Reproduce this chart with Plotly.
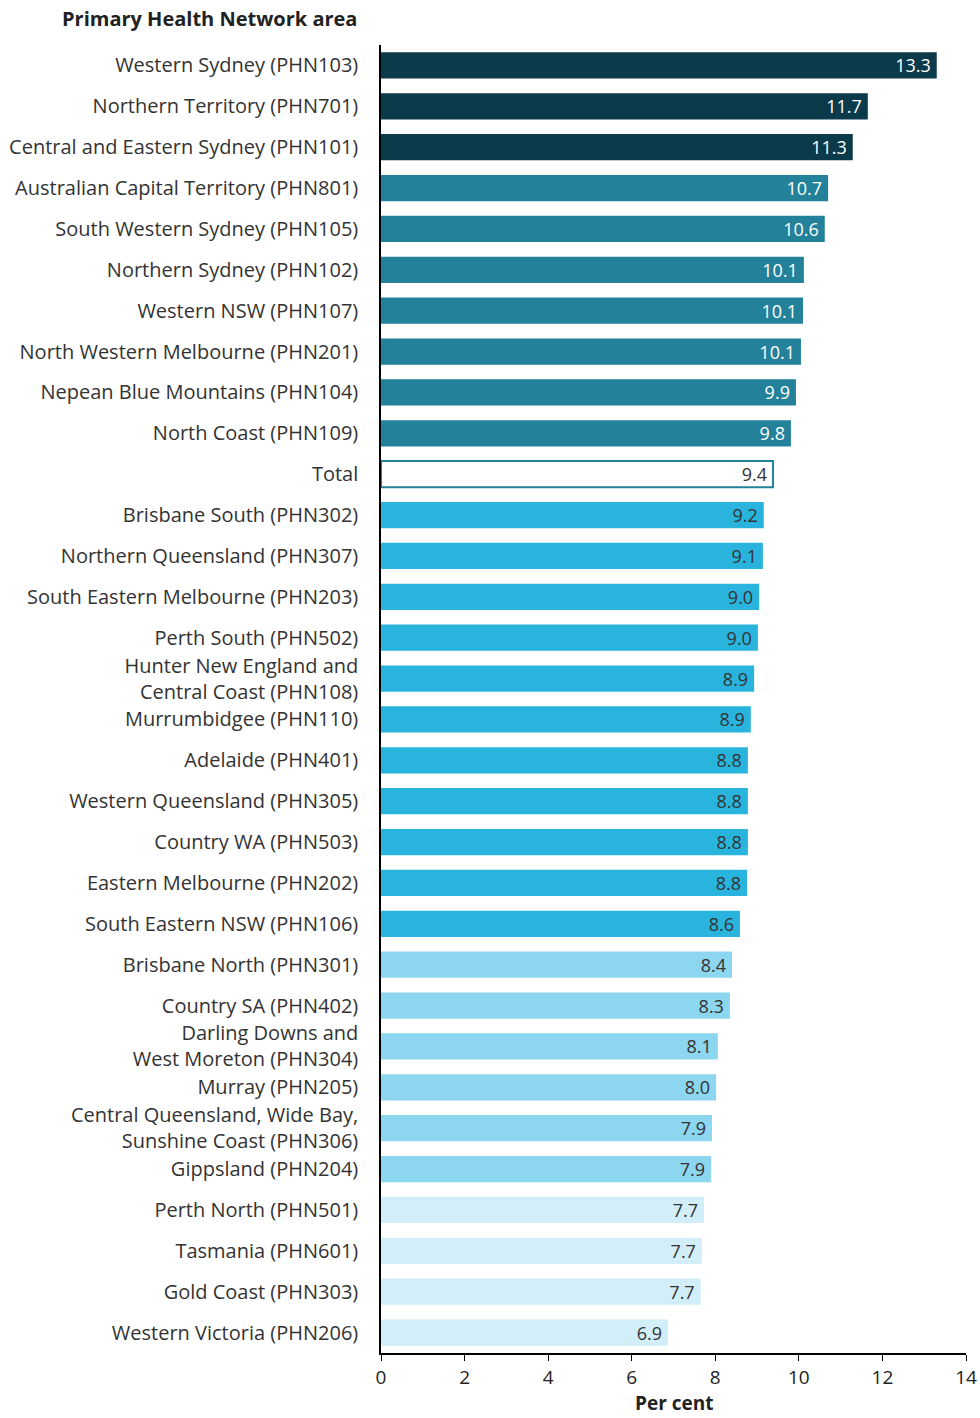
import plotly.graph_objects as go

areas = [
    "Western Sydney (PHN103)", "Northern Territory (PHN701)", "Central and Eastern Sydney (PHN101)",
    "Australian Capital Territory (PHN801)", "South Western Sydney (PHN105)", "Northern Sydney (PHN102)",
    "Western NSW (PHN107)", "North Western Melbourne (PHN201)", "Nepean Blue Mountains (PHN104)",
    "North Coast (PHN109)", "Total", "Brisbane South (PHN302)", "Northern Queensland (PHN307)",
    "South Eastern Melbourne (PHN203)", "Perth South (PHN502)",
    "Hunter New England and<br>Central Coast (PHN108)", "Murrumbidgee (PHN110)", "Adelaide (PHN401)",
    "Western Queensland (PHN305)", "Country WA (PHN503)", "Eastern Melbourne (PHN202)",
    "South Eastern NSW (PHN106)", "Brisbane North (PHN301)", "Country SA (PHN402)",
    "Darling Downs and<br>West Moreton (PHN304)", "Murray (PHN205)",
    "Central Queensland, Wide Bay,<br>Sunshine Coast (PHN306)", "Gippsland (PHN204)",
    "Perth North (PHN501)", "Tasmania (PHN601)", "Gold Coast (PHN303)", "Western Victoria (PHN206)",
]
values = [13.30, 11.65, 11.29, 10.70, 10.62, 10.12, 10.10, 10.05, 9.93, 9.81, 9.38, 9.16, 9.14,
          9.05, 9.02, 8.93, 8.85, 8.78, 8.78, 8.78, 8.76, 8.59, 8.40, 8.35, 8.06, 8.02, 7.92, 7.90,
          7.73, 7.68, 7.65, 6.87]
labels = ["13.3", "11.7", "11.3", "10.7", "10.6", "10.1", "10.1", "10.1", "9.9", "9.8", "9.4", "9.2",
          "9.1", "9.0", "9.0", "8.9", "8.9", "8.8", "8.8", "8.8", "8.8", "8.6", "8.4", "8.3", "8.1",
          "8.0", "7.9", "7.9", "7.7", "7.7", "7.7", "6.9"]
groups = ["d"] * 3 + ["m"] * 7 + ["t"] + ["b"] * 11 + ["l"] * 6 + ["x"] * 4

fills = {"d": "#0b3a4b", "m": "#23819a", "t": "#ffffff", "b": "#28b4dd", "l": "#8dd6ef", "x": "#d2eef9"}
textcol = {"d": "#ffffff", "m": "#ffffff", "t": "#333333", "b": "#333333", "l": "#333333", "x": "#333333"}

fig = go.Figure(go.Bar(
    y=areas, x=values, orientation="h",
    marker=dict(color=[fills[g] for g in groups],
                line=dict(color=["#23819a" if g == "t" else "rgba(0,0,0,0)" for g in groups],
                          width=[2 if g == "t" else 0 for g in groups])),
    text=[t + "\u2009" for t in labels], textposition="inside", insidetextanchor="end",
    textfont=dict(family="Open Sans", size=18, color=[textcol[g] for g in groups]),
    constraintext="none", cliponaxis=False, hoverinfo="skip",
))

fig.update_layout(
    width=980, height=1418, margin=dict(l=381, r=14, t=45, b=65),
    paper_bgcolor="white", plot_bgcolor="white", bargap=0.36, showlegend=False,
    font=dict(family="Open Sans", color="#333333", size=20),
    xaxis=dict(range=[0, 14], dtick=2, showgrid=False, zeroline=False, showline=True,
               automargin=False,
               linecolor="#000000", linewidth=1.5, ticks="outside", ticklen=6, tickcolor="#000000",
               tickfont=dict(size=19, color="#222222")),
    yaxis=dict(autorange="reversed", showgrid=False, showline=True, linecolor="#000000",
               automargin=False,
               linewidth=1.5, ticks="", ticklabelstandoff=17,
               tickfont=dict(size=20, color="#333333")),
    annotations=[
        dict(text="<b>Primary Health Network area</b>", xref="paper", yref="paper",
             x=0, xshift=-22, y=1, yshift=11, xanchor="right", yanchor="bottom",
             showarrow=False, font=dict(size=20, color="#222222")),
        dict(text="<b>Per cent</b>", xref="paper", yref="paper",
             x=0.5, y=0, yshift=-50, xanchor="center", yanchor="middle",
             showarrow=False, font=dict(size=19, color="#222222")),
    ],
)

fig.write_html("out.html", config={"displayModeBar": False},
               post_script="document.body.style.margin='0';document.body.style.overflow='hidden';")
